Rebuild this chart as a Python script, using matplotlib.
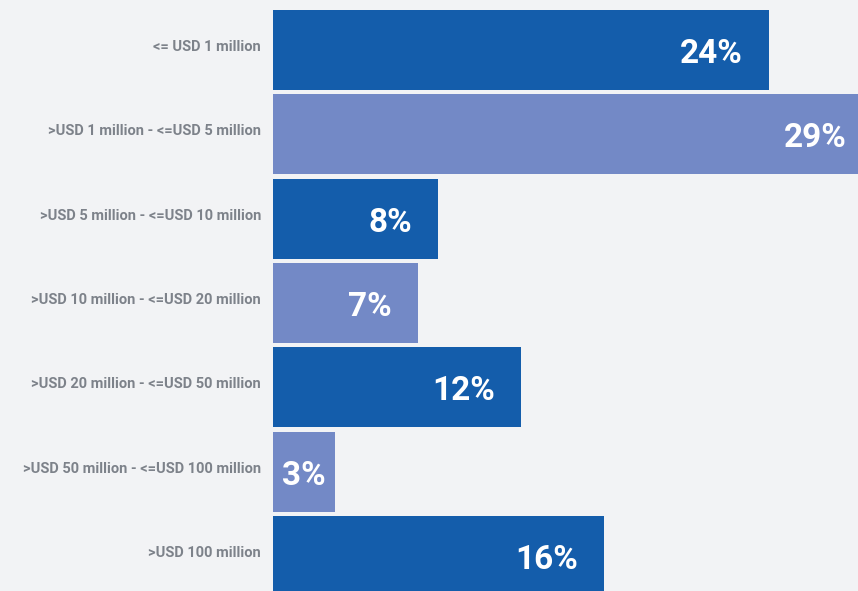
import matplotlib
matplotlib.use("Agg")
import matplotlib.pyplot as plt

categories = [
    "<= USD 1 million",
    ">USD 1 million - <=USD 5 million",
    ">USD 5 million - <=USD 10 million",
    ">USD 10 million - <=USD 20 million",
    ">USD 20 million - <=USD 50 million",
    ">USD 50 million - <=USD 100 million",
    ">USD 100 million",
]
shares = [24, 29, 8, 7, 12, 3, 16]
value_labels = ["24%", "29%", "8%", "7%", "12%", "3%", "16%"]

dark_blue = "#145DAB"
light_blue = "#7389C6"
bg = "#F2F3F5"
colors = [dark_blue if i % 2 == 0 else light_blue for i in range(len(shares))]

W, H = 858, 591
fig = plt.figure(figsize=(W / 100, H / 100), dpi=100, facecolor=bg)
ax = fig.add_axes([273 / W, 0, 1 - 273 / W, 1])
ax.set_facecolor(bg)

ypos = list(range(len(shares)))
ax.barh(ypos, shares, height=0.95, color=colors, edgecolor="none")

ax.set_xlim(0, 28.3)
ax.set_ylim(6.415, -0.593)

px_per_unit = (W - 273) / 28.3
for y, v, lab in zip(ypos, shares, value_labels):
    if v * px_per_unit < 100:
        # narrow bar: centre the label inside it
        ax.annotate(lab, xy=(v / 2, y), xytext=(0, -4), textcoords="offset pixels",
                    ha="center", va="center", color="white", fontsize=24,
                    fontweight="bold", family="Roboto", annotation_clip=False)
    else:
        ax.annotate(lab, xy=(v, y), xytext=(-26, -4), textcoords="offset pixels",
                    ha="right", va="center", color="white", fontsize=24,
                    fontweight="bold", family="Roboto", annotation_clip=False)

for y, cat in zip(ypos, categories):
    ax.annotate(cat, xy=(0, y), xytext=(-12, 3), textcoords="offset pixels",
                ha="right", va="center", color="#7D828A", fontsize=10.5,
                fontweight="bold", family="Roboto", annotation_clip=False)

ax.set_yticks([])
ax.set_xticks([])
for s in ax.spines.values():
    s.set_visible(False)

fig.savefig("out.png", dpi=100, facecolor=bg)
